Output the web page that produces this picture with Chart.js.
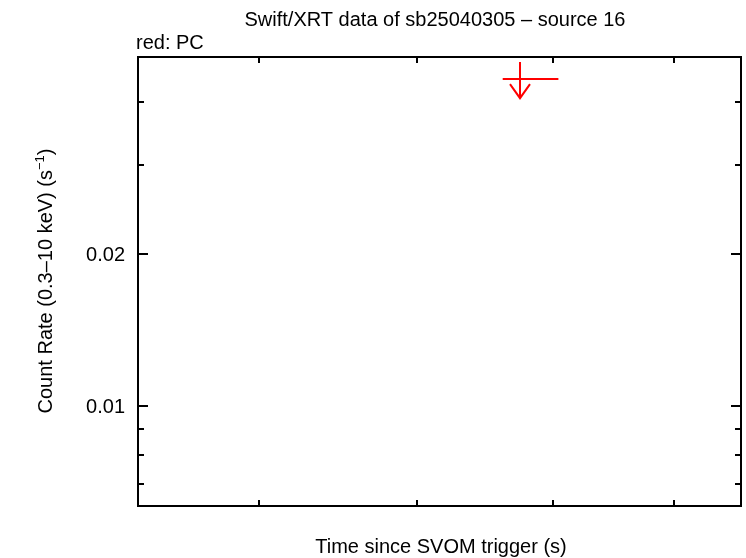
<!DOCTYPE html>
<html><head><meta charset="utf-8">
<script src="https://cdn.jsdelivr.net/npm/chart.js@4"></script>
<style>html,body{margin:0;padding:0;background:#fff}</style>
</head><body>
<canvas id="c" width="746" height="558" style="display:block;width:746px;height:558px"></canvas>
<script>
const chartTitle = "Swift/XRT data of sb25040305 \u2013 source 16";
const legendNote = "red: PC";
const xTitle = "Time since SVOM trigger (s)";
const yTitleMain = "Count Rate (0.3\u201310 keV) (s";
const yTitleSup = "\u22121";
const yTitleEnd = ")";

// PC mode upper limit (time in s, rate in counts/s)
const pcTime = [7741];
const pcTimeLo = [7613];
const pcTimeHi = [8039];
const pcRateUL = [0.0444];
const pcULTop = [0.0480];
const pcULTip = [0.0407];

const xRange = [5330, 9610];
const yRange = [0.00634, 0.0491];
const xMinorTicks = [6000, 7000, 8000, 9000];
const yMajorTicks = [0.01, 0.02];
const yMinorTicks = [0.007, 0.008, 0.009, 0.03, 0.04];
const yTickLabels = ["0.01", "0.02"];

const FONT = '20px "Liberation Sans", Arial, sans-serif';

const drawPlugin = {
  id: 'gnuplotLook',
  afterDatasetsDraw(chart) {
    const ctx = chart.ctx;
    const a = chart.chartArea;
    const xs = chart.scales.x, ys = chart.scales.y;
    ctx.save();
    // upper limits
    ctx.strokeStyle = '#ff0000';
    ctx.lineWidth = 2;
    ctx.lineCap = 'butt';
    for (let i = 0; i < pcTime.length; i++) {
      const px = Math.round(xs.getPixelForValue(pcTime[i]));
      const py = ys.getPixelForValue(pcRateUL[i]);
      const pl = xs.getPixelForValue(pcTimeLo[i]);
      const pr = xs.getPixelForValue(pcTimeHi[i]);
      const pt = ys.getPixelForValue(pcULTop[i]);
      const pb = ys.getPixelForValue(pcULTip[i]);
      ctx.beginPath();
      ctx.moveTo(pl, py); ctx.lineTo(pr, py);
      ctx.moveTo(px, pt); ctx.lineTo(px, pb);
      ctx.moveTo(px - 10, pb - 14); ctx.lineTo(px, pb); ctx.lineTo(px + 10, pb - 14);
      ctx.stroke();
    }
    // frame
    ctx.strokeStyle = '#000';
    ctx.lineWidth = 2;
    ctx.strokeRect(a.left, a.top, a.right - a.left, a.bottom - a.top);
    // ticks
    ctx.beginPath();
    xMinorTicks.forEach(v => {
      const p = Math.round(xs.getPixelForValue(v));
      ctx.moveTo(p, a.bottom); ctx.lineTo(p, a.bottom - 6);
      ctx.moveTo(p, a.top); ctx.lineTo(p, a.top + 6);
    });
    yMinorTicks.forEach(v => {
      const p = Math.round(ys.getPixelForValue(v));
      ctx.moveTo(a.left, p); ctx.lineTo(a.left + 6, p);
      ctx.moveTo(a.right, p); ctx.lineTo(a.right - 6, p);
    });
    yMajorTicks.forEach(v => {
      const p = Math.round(ys.getPixelForValue(v));
      ctx.moveTo(a.left, p); ctx.lineTo(a.left + 10, p);
      ctx.moveTo(a.right, p); ctx.lineTo(a.right - 10, p);
    });
    ctx.stroke();
    // texts
    ctx.fillStyle = '#000';
    ctx.font = FONT;
    ctx.textBaseline = 'alphabetic';
    ctx.textAlign = 'center';
    ctx.fillText(chartTitle, 435, 26);
    ctx.fillText(xTitle, 441, 553);
    ctx.textAlign = 'left';
    ctx.fillText(legendNote, 136, 49);
    ctx.textAlign = 'right';
    yMajorTicks.forEach((v, i) => {
      const p = ys.getPixelForValue(v);
      ctx.fillText(yTickLabels[i], 125, p + 7);
    });
    // y title rotated
    ctx.translate(52, 281);
    ctx.rotate(-Math.PI / 2);
    ctx.font = FONT;
    const w1 = ctx.measureText(yTitleMain).width;
    ctx.font = '13px "Liberation Sans", Arial, sans-serif';
    const w2 = ctx.measureText(yTitleSup).width;
    ctx.font = FONT;
    const w3 = ctx.measureText(yTitleEnd).width;
    let x0 = -(w1 + w2 + w3) / 2;
    ctx.textAlign = 'left';
    ctx.fillText(yTitleMain, x0, 0);
    ctx.font = '13px "Liberation Sans", Arial, sans-serif';
    ctx.fillText(yTitleSup, x0 + w1, -8);
    ctx.font = FONT;
    ctx.fillText(yTitleEnd, x0 + w1 + w2, 0);
    ctx.restore();
  }
};

new Chart(document.getElementById('c'), {
  type: 'scatter',
  data: {
    datasets: [{
      label: 'PC',
      data: pcTime.map((t, i) => ({ x: t, y: pcRateUL[i] })),
      pointRadius: 0,
      showLine: false,
      borderColor: '#ff0000',
      backgroundColor: '#ff0000'
    }]
  },
  options: {
    responsive: false,
    animation: false,
    devicePixelRatio: 1,
    layout: { padding: { top: 57, right: 5, bottom: 0, left: 0 } },
    plugins: { legend: { display: false }, title: { display: false }, tooltip: { enabled: false } },
    scales: {
      x: {
        type: 'logarithmic', min: xRange[0], max: xRange[1], bounds: 'data',
        ticks: { display: false }, grid: { display: false, drawTicks: false },
        border: { display: false },
        afterFit(s) { s.height = 52; }
      },
      y: {
        type: 'logarithmic', min: yRange[0], max: yRange[1], bounds: 'data',
        ticks: { display: false }, grid: { display: false, drawTicks: false },
        border: { display: false },
        afterFit(s) { s.width = 138; }
      }
    }
  },
  plugins: [drawPlugin]
});
</script>
</body></html>
